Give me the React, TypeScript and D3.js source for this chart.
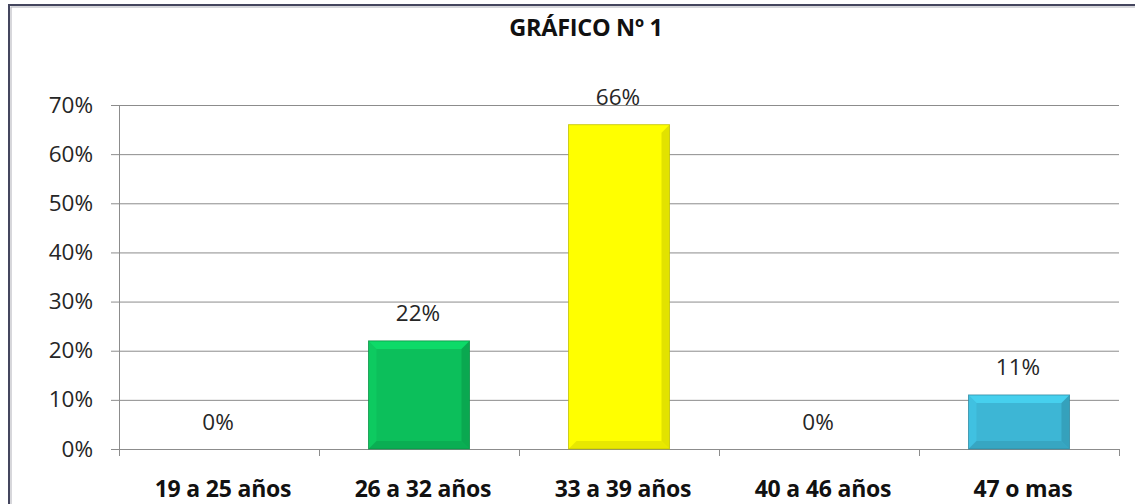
import { useEffect, useRef } from "react";
import * as d3 from "d3";

const categories = ["19 a 25 años", "26 a 32 años", "33 a 39 años", "40 a 46 años", "47 o mas"];
const values = [0, 22, 66, 0, 11];
const labels = ["0%", "22%", "66%", "0%", "11%"];
const barColors = ["#7f7f7f", "#0cbf5b", "#ffff00", "#7f7f7f", "#3db6d5"];
const yTicks = [0, 10, 20, 30, 40, 50, 60, 70];

export default function App() {
  const svgRef = useRef<SVGSVGElement>(null);
  const width = 1135;
  const height = 504;

  useEffect(() => {
    const svg = d3.select(svgRef.current);
    svg.selectAll("*").remove();

    const font = "'Open Sans', sans-serif";
    const left = 119, right = 1119, top = 105, bottom = 449;

    // chart frame
    svg.append("rect").attr("x", 9).attr("y", 5).attr("width", 1140).attr("height", 520)
      .attr("fill", "white").attr("stroke", "#44465e").attr("stroke-width", 2);
    svg.append("rect").attr("x", 11).attr("y", 7).attr("width", 1140).attr("height", 520)
      .attr("fill", "none").attr("stroke", "#b0b0b8").attr("stroke-width", 1);

    const x = d3.scaleBand().domain(categories).range([left, right]);
    const y = d3.scaleLinear().domain([0, 70]).range([bottom, top]);

    // gridlines
    svg.append("g").selectAll("line").data(yTicks).join("line")
      .attr("x1", left - 8).attr("x2", right)
      .attr("y1", d => y(d) + 0.5).attr("y2", d => y(d) + 0.5)
      .attr("stroke", "#8c8c8c").attr("stroke-width", 1);

    // y axis line
    svg.append("line").attr("x1", left + 0.5).attr("x2", left + 0.5)
      .attr("y1", top).attr("y2", bottom + 7).attr("stroke", "#8c8c8c");

    // category ticks
    const bounds = categories.map(c => x(c)!).concat([right]);
    svg.append("g").selectAll("line").data(bounds.slice(1)).join("line")
      .attr("x1", d => d + 0.5).attr("x2", d => d + 0.5)
      .attr("y1", bottom).attr("y2", bottom + 7).attr("stroke", "#8c8c8c");

    // y labels
    svg.append("g").selectAll("text").data(yTicks).join("text")
      .attr("x", 93).attr("y", d => y(d) + 7.5)
      .attr("text-anchor", "end").attr("font-family", font).attr("font-size", 22.5)
      .attr("fill", "#262626").text(d => d + "%");

    // bars with bevel
    const bw = x.bandwidth() * 0.505;
    const bev = 8;
    const g = svg.append("g");
    values.forEach((v, i) => {
      if (v <= 0) return;
      const cx = x(categories[i])! + x.bandwidth() / 2;
      const x0 = cx - bw / 2, x1 = cx + bw / 2;
      const y0 = y(v), y1 = y(0);
      const base = d3.color(barColors[i])!;
      g.append("rect").attr("x", x0).attr("y", y0).attr("width", bw).attr("height", y1 - y0)
        .attr("fill", barColors[i]);
      const poly = (pts: number[][], fill: string, op: number) =>
        g.append("polygon").attr("points", pts.map(p => p.join(",")).join(" "))
          .attr("fill", fill).attr("opacity", op);
      poly([[x0, y0], [x1, y0], [x1 - bev, y0 + bev], [x0 + bev, y0 + bev]], base.brighter(0.6).toString(), 0.6);
      poly([[x0, y0], [x0 + bev, y0 + bev], [x0 + bev, y1 - bev], [x0, y1]], base.brighter(0.3).toString(), 0.5);
      poly([[x1, y0], [x1, y1], [x1 - bev, y1 - bev], [x1 - bev, y0 + bev]], base.darker(0.6).toString(), 0.6);
      poly([[x0, y1], [x1, y1], [x1 - bev, y1 - bev], [x0 + bev, y1 - bev]], base.darker(0.45).toString(), 0.6);
      g.append("rect").attr("x", x0).attr("y", y0).attr("width", bw).attr("height", y1 - y0)
        .attr("fill", "none").attr("stroke", base.darker(0.9).toString()).attr("stroke-width", 1)
        .attr("opacity", 0.7);
    });

    // value labels
    svg.append("g").selectAll("text").data(values).join("text")
      .attr("x", (d, i) => x(categories[i])! + x.bandwidth() / 2 - 1)
      .attr("y", d => y(d) - 19.5)
      .attr("text-anchor", "middle").attr("font-family", font).attr("font-size", 22.5)
      .attr("fill", "#262626").text((d, i) => labels[i]);

    // category labels
    svg.append("g").selectAll("text").data(categories).join("text")
      .attr("x", d => x(d)! + x.bandwidth() / 2 + 4).attr("y", 497)
      .attr("text-anchor", "middle").attr("font-family", font).attr("font-size", 23)
      .attr("font-weight", "bold").attr("letter-spacing", -0.2)
      .attr("fill", "#111").text(d => d);

    // title
    svg.append("text").attr("x", 586).attr("y", 36).attr("text-anchor", "middle")
      .attr("font-family", font).attr("font-size", 23.5).attr("font-weight", "bold")
      .attr("letter-spacing", -0.3)
      .attr("fill", "#111").text("GRÁFICO Nº 1");
  }, []);

  return (
    <svg ref={svgRef} width={width} height={height}
      style={{ position: "absolute", left: 0, top: 0, background: "white" }} />
  );
}
